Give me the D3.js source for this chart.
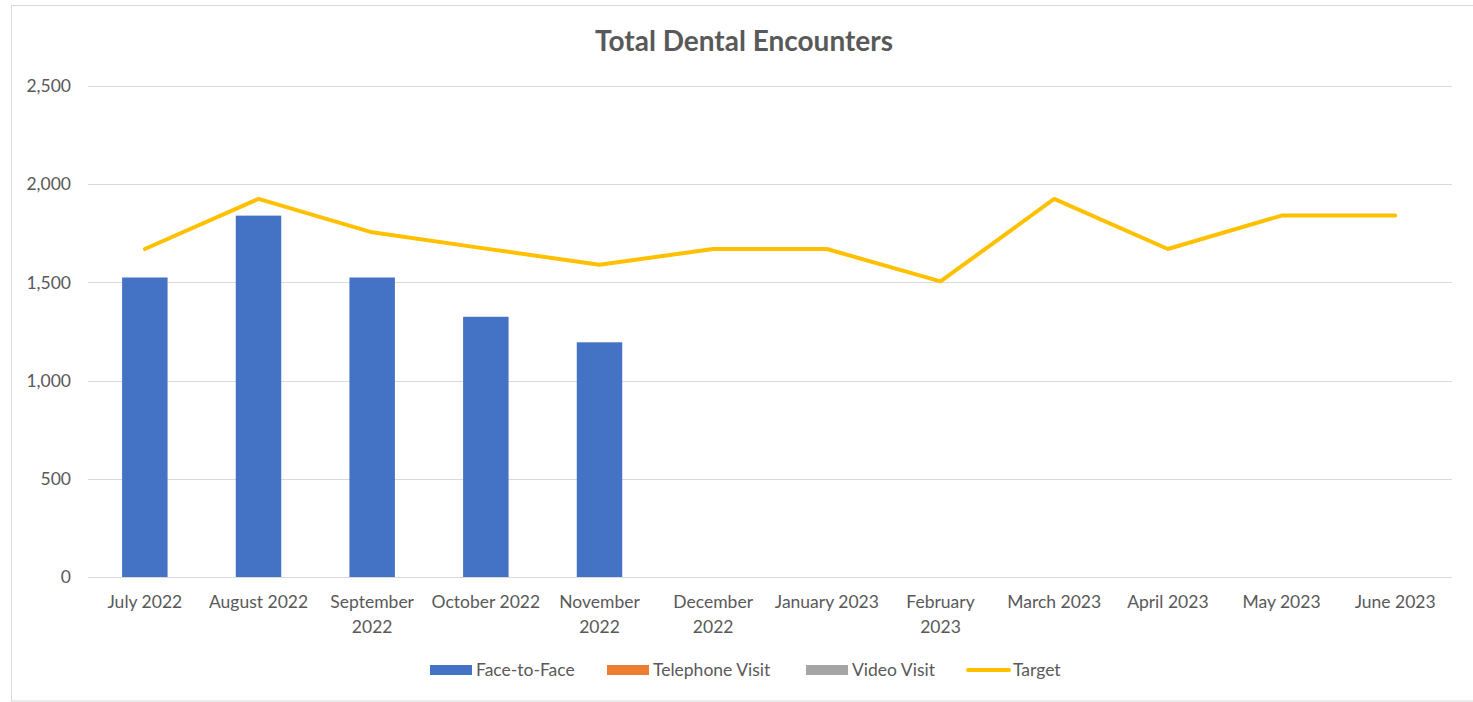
<!DOCTYPE html>
<html>
<head>
<meta charset="utf-8">
<script src="https://cdn.jsdelivr.net/npm/d3@7"></script>
<style>
  body { margin: 0; background: #fff; }
  text { font-family: Lato, "Open Sans", sans-serif; }
</style>
</head>
<body>
<div id="chart"></div>
<script>
// data
var months = ["July 2022", "August 2022", "September 2022", "October 2022", "November 2022",
  "December 2022", "January 2023", "February 2023", "March 2023", "April 2023", "May 2023", "June 2023"];
var faceToFace = [1525, 1840, 1525, 1325, 1195, null, null, null, null, null, null, null];
var telephoneVisit = [0, 0, 0, 0, 0, null, null, null, null, null, null, null];
var videoVisit = [0, 0, 0, 0, 0, null, null, null, null, null, null, null];
var target = [1670, 1925, 1755, 1672, 1590, 1670, 1670, 1505, 1925, 1670, 1840, 1840];
var yTicks = [0, 500, 1000, 1500, 2000, 2500];
var legendNames = ["Face-to-Face", "Telephone Visit", "Video Visit", "Target"];

var W = 1473, H = 702;
var margin = {top: 86, right: 21, bottom: 125, left: 88};
var width = W - margin.left - margin.right,
    height = H - margin.top - margin.bottom;
var fs = 17.5;

var svg = d3.select("#chart").append("svg")
  .attr("width", W)
  .attr("height", H);

// outer border of the chart area
svg.append("rect")
  .attr("x", 11.5).attr("y", 5.5)
  .attr("width", W).attr("height", 695.5)
  .attr("fill", "#fff")
  .attr("stroke", "#d9d9d9");

svg.append("text")
  .attr("x", 744).attr("y", 51)
  .attr("text-anchor", "middle")
  .attr("font-size", 28)
  .attr("font-weight", "bold")
  .attr("fill", "#595959")
  .text("Total Dental Encounters");

var g = svg.append("g")
  .attr("transform", "translate(" + margin.left + "," + margin.top + ")");

var x = d3.scaleBand()
  .domain(months)
  .range([0, width])
  .paddingInner(0.6)
  .paddingOuter(0.3);

var y = d3.scaleLinear()
  .domain([0, 2500])
  .range([height, 0]);

// gridlines
g.append("g")
  .selectAll("line")
  .data(yTicks)
  .enter().append("line")
    .attr("x1", 0).attr("x2", width)
    .attr("y1", function(d) { return Math.round(y(d)) + 0.5; })
    .attr("y2", function(d) { return Math.round(y(d)) + 0.5; })
    .attr("stroke", "#d9d9d9")
    .attr("stroke-width", 1);

// y axis labels
var yAxis = g.append("g")
  .call(d3.axisLeft(y).tickValues(yTicks).tickSize(0).tickPadding(17).tickFormat(d3.format(",")));
yAxis.select(".domain").remove();
yAxis.selectAll("text")
  .attr("font-size", fs)
  .attr("fill", "#595959")
  .style("font-family", "Lato, 'Open Sans', sans-serif");

// x axis labels, wrapped when too wide for the band
var xAxis = g.append("g")
  .attr("transform", "translate(0," + height + ")")
  .call(d3.axisBottom(x).tickSize(0).tickPadding(19));
xAxis.select(".domain").remove();
xAxis.selectAll("text")
  .attr("font-size", fs)
  .attr("fill", "#595959")
  .style("font-family", "Lato, 'Open Sans', sans-serif")
  .each(function(d) {
    var t = d3.select(this);
    if (this.getComputedTextLength() > 110) {
      var parts = d.split(" ");
      t.text(null);
      t.append("tspan").attr("x", 0).attr("dy", "0.71em").text(parts[0]);
      t.append("tspan").attr("x", 0).attr("dy", "1.4em").text(parts.slice(1).join(" "));
      t.attr("dy", null);
    }
  });

// stacked bars
var rows = months.map(function(m, i) {
  return {month: m, f2f: faceToFace[i] || 0, tel: telephoneVisit[i] || 0, vid: videoVisit[i] || 0};
});
var keys = ["f2f", "tel", "vid"];
var color = d3.scaleOrdinal().domain(keys).range(["#4472c4", "#ed7d31", "#a5a5a5"]);
var stacked = d3.stack().keys(keys)(rows);

g.append("g")
  .selectAll("g")
  .data(stacked)
  .enter().append("g")
    .attr("fill", function(d) { return color(d.key); })
  .selectAll("rect")
  .data(function(d) { return d.filter(function(p) { return p[1] - p[0] > 0; }); })
  .enter().append("rect")
    .attr("x", function(d) { return x(d.data.month); })
    .attr("y", function(d) { return y(d[1]); })
    .attr("width", x.bandwidth())
    .attr("height", function(d) { return y(d[0]) - y(d[1]); });

// target line
var line = d3.line()
  .x(function(d, i) { return x(months[i]) + x.bandwidth() / 2; })
  .y(function(d) { return y(d); });

g.append("path")
  .datum(target)
  .attr("d", line)
  .attr("fill", "none")
  .attr("stroke", "#ffc000")
  .attr("stroke-width", 4)
  .attr("stroke-linejoin", "round")
  .attr("stroke-linecap", "round");

// legend
var legendX = [430, 607, 806, 966];
var legendColors = ["#4472c4", "#ed7d31", "#a5a5a5", "#ffc000"];
var legend = svg.append("g").attr("transform", "translate(0,670)");
legendNames.forEach(function(name, i) {
  if (i < 3) {
    legend.append("rect")
      .attr("x", legendX[i]).attr("y", -5)
      .attr("width", 42).attr("height", 10)
      .attr("fill", legendColors[i]);
  } else {
    legend.append("line")
      .attr("x1", legendX[i] + 2).attr("x2", legendX[i] + 43)
      .attr("y1", 0).attr("y2", 0)
      .attr("stroke", legendColors[i])
      .attr("stroke-width", 4)
      .attr("stroke-linecap", "round");
  }
  legend.append("text")
    .attr("x", legendX[i] + (i < 3 ? 46 : 47)).attr("y", 0)
    .attr("dy", "0.35em")
    .attr("font-size", fs)
    .attr("fill", "#595959")
    .text(name);
});
</script>
</body>
</html>
